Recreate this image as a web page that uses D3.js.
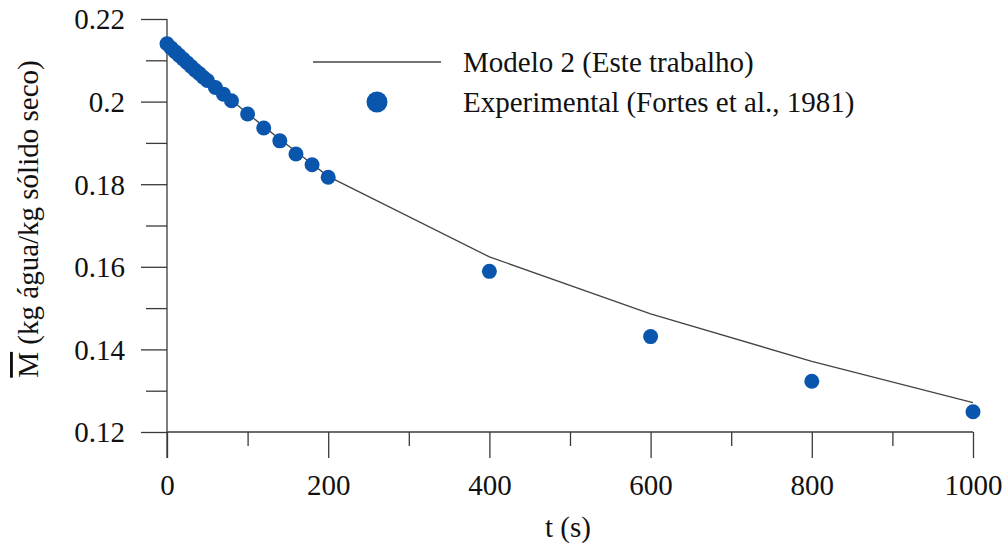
<!DOCTYPE html>
<html>
<head>
<meta charset="utf-8">
<script src="https://cdn.jsdelivr.net/npm/d3@7"></script>
<style>
  html, body { margin: 0; padding: 0; background: #fff; }
  svg { display: block; }
  text { font-family: "Liberation Serif", "Times New Roman", serif; fill: #111; }
</style>
</head>
<body>
<svg id="chart" width="1008" height="552"></svg>
<script>
// Experimental drying data (Fortes et al., 1981)
const expTime = [0, 5, 10, 15, 20, 25, 30, 35, 40, 45, 50, 60, 70, 80,
                 100, 120, 140, 160, 180, 200, 400, 600, 800, 1000];
const expMoisture = [0.2140, 0.2130, 0.2121, 0.2112, 0.2103, 0.2094, 0.2085, 0.2076,
                     0.2068, 0.2059, 0.2051, 0.2034, 0.2018, 0.2002,
                     0.1970, 0.1936, 0.1905, 0.1873, 0.1847, 0.1817,
                     0.1589, 0.1431, 0.1323, 0.1249];

// Model 2 prediction
const modelTime = [0, 20, 40, 60, 80, 100, 120, 140, 160, 180, 200, 400, 600, 800, 1000];
const modelMoisture = [0.2140, 0.2104, 0.2068, 0.2035, 0.2003, 0.1971, 0.1940, 0.1909,
                       0.1879, 0.1849, 0.1819, 0.1624, 0.1486, 0.1371, 0.1271];

// Axis ticks
const xMajorTicks = [0, 200, 400, 600, 800, 1000];
const xMinorTicks = [100, 300, 500, 700, 900];
const yMajorTicks = [0.12, 0.14, 0.16, 0.18, 0.20, 0.22];
const yMinorTicks = [0.13, 0.15, 0.17, 0.19, 0.21];

const legendLabels = ["Modelo 2 (Este trabalho)", "Experimental (Fortes et al., 1981)"];

const svg = d3.select("#chart");
const blue = "#0a56ac";
const axisColor = "#3a3a3a";
const fontSize = 29;

const x = d3.scaleLinear().domain([0, 1000]).range([167, 973]);
const y = d3.scaleLinear().domain([0.12, 0.22]).range([432, 19]);

// Y axis with long outward ticks
const yAxis = svg.append("g").attr("transform", `translate(${x(0)},0)`);
yAxis.call(d3.axisLeft(y).tickValues(yMajorTicks).tickSize(26).tickPadding(16)
  .tickFormat(d => d === 0.2 ? "0.2" : d3.format(".2f")(d)));
yAxis.append("g").call(d3.axisLeft(y).tickValues(yMinorTicks).tickSize(21).tickFormat(""));
yAxis.selectAll(".domain").remove();
yAxis.append("line").attr("x1", 0).attr("x2", 0).attr("y1", y(0.22)).attr("y2", y(0.12) + 26);

// X axis
const xAxis = svg.append("g").attr("transform", `translate(0,${y(0.12)})`);
xAxis.call(d3.axisBottom(x).tickValues(xMajorTicks).tickSize(26).tickPadding(16).tickFormat(d3.format("d")));
xAxis.append("g").call(d3.axisBottom(x).tickValues(xMinorTicks).tickSize(14).tickFormat(""));
xAxis.selectAll(".domain").remove();
xAxis.append("line").attr("x1", x(0)).attr("x2", x(1000)).attr("y1", 0).attr("y2", 0);

svg.selectAll("g line").attr("stroke", axisColor).attr("stroke-width", 1.3);
svg.selectAll(".tick text")
  .attr("font-family", "Liberation Serif, Times New Roman, serif")
  .attr("font-size", fontSize).attr("fill", "#111");
yAxis.selectAll(".tick text").attr("dy", "0.34em");

// Axis titles
svg.append("text")
  .attr("x", 568).attr("y", 537)
  .attr("text-anchor", "middle").attr("font-size", fontSize)
  .text("t (s)");

const yTitle = svg.append("text")
  .attr("transform", "translate(38,219) rotate(-90)")
  .attr("text-anchor", "middle")
  .attr("font-family", "Liberation Serif, Times New Roman, serif")
  .attr("font-size", fontSize);
yTitle.append("tspan").style("text-decoration", "overline").text("M");
yTitle.append("tspan").text(" (kg água/kg sólido seco)");

// Model curve
const line = d3.line().x(d => x(d[0])).y(d => y(d[1]));
svg.append("path")
  .datum(d3.zip(modelTime, modelMoisture))
  .attr("d", line)
  .attr("fill", "none")
  .attr("stroke", "#444")
  .attr("stroke-width", 1.3);

// Experimental points
svg.append("g").selectAll("circle")
  .data(d3.zip(expTime, expMoisture))
  .join("circle")
  .attr("cx", d => x(d[0]))
  .attr("cy", d => y(d[1]))
  .attr("r", 7.5)
  .attr("fill", blue);

// Legend
const legend = svg.append("g");
legend.append("line")
  .attr("x1", 313).attr("x2", 441).attr("y1", 62).attr("y2", 62)
  .attr("stroke", "#444").attr("stroke-width", 1.3);
legend.append("text").attr("x", 463).attr("y", 72).attr("font-size", fontSize).text(legendLabels[0]);
legend.append("circle").attr("cx", 377).attr("cy", 102).attr("r", 10.5).attr("fill", blue);
legend.append("text").attr("x", 463).attr("y", 112).attr("font-size", fontSize).text(legendLabels[1]);
</script>
</body>
</html>
